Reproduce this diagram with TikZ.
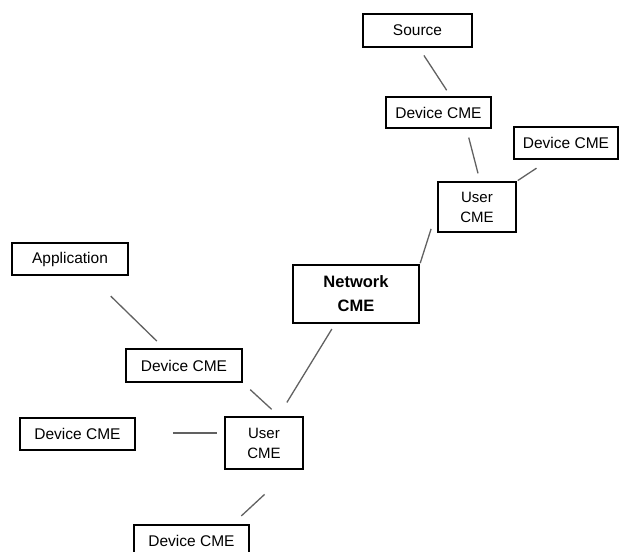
\documentclass[tikz,border=0pt]{standalone}
\usepackage{fontspec}
\setmainfont{Liberation Sans}
\begin{document}
\begin{tikzpicture}[x=1pt,y=-1pt,
  box/.style={draw=black,line width=1.8pt,inner sep=0pt,align=center,
    font=\fontsize{15.5}{18}\selectfont},
  userbox/.style={box,font=\fontsize{15}{20}\selectfont},
  netbox/.style={box,font=\bfseries\fontsize{16.5}{24}\selectfont},
  link/.style={draw=black!62,line width=1.3pt}]
\useasboundingbox (0,0) rectangle (619,552);

% boxes of the upper branch
\node[box,minimum width=109pt,minimum height=33pt] (src)  at (417.5,30.5) {Source};
\node[box,minimum width=105pt,minimum height=31pt] (dev1) at (438.5,112.5) {Device CME};
\node[box,minimum width=104pt,minimum height=32pt] (dev2) at (566,143) {Device CME};
\node[userbox,minimum width=78pt,minimum height=50pt] (usr1) at (477,207) {User\\CME};

% network box
\node[netbox,minimum width=126pt,minimum height=58pt] (net) at (356,294) {Network\\CME};

% boxes of the lower branch
\node[box,minimum width=116pt,minimum height=32pt] (app)  at (70,259) {Application};
\node[box,minimum width=116pt,minimum height=33pt] (dev3) at (184,365.5) {Device CME};
\node[box,minimum width=115pt,minimum height=32pt] (dev4) at (77.5,434) {Device CME};
\node[userbox,minimum width=78pt,minimum height=52pt] (usr2) at (264,443) {User\\CME};
\node[box,minimum width=115pt,minimum height=32pt] (dev5) at (191.5,541) {Device CME};

% connectors, kept clear of the box edges
\draw[link,shorten <=9pt,shorten >=7pt] ([xshift=1.5pt]src.south) -- ([xshift=12pt]dev1.north);
\draw[link,shorten <=9pt,shorten >=8pt] ([xshift=28pt]dev1.south) -- ([xshift=3pt]usr1.north);
\draw[link,shorten <=15pt,shorten >=1pt] ([xshift=-17pt]dev2.south) -- (usr1.north east);
\draw[link,shorten >=1pt] ([xshift=-6pt,yshift=4pt]usr1.south west) -- (net.north east);

\draw[link,shorten <=29pt,shorten >=10pt] ([xshift=20pt]app.south) -- ([xshift=-20pt]dev3.north);
\draw[link,shorten <=10pt,shorten >=10pt] (dev3.south east) -- ([xshift=15pt]usr2.north);
\draw[link,shorten <=6pt,shorten >=16pt] ([xshift=-21pt]net.south) -- ([xshift=14.5pt]usr2.north);
\draw[link,shorten <=37pt,shorten >=7pt] ([yshift=1pt]dev4.east) -- ([yshift=1pt]dev4.east -| usr2.west);
\draw[link,shorten <=36pt,shorten >=12pt] ([xshift=27pt]usr2.south) -- ([xshift=41pt]dev5.north);
\end{tikzpicture}
\end{document}
